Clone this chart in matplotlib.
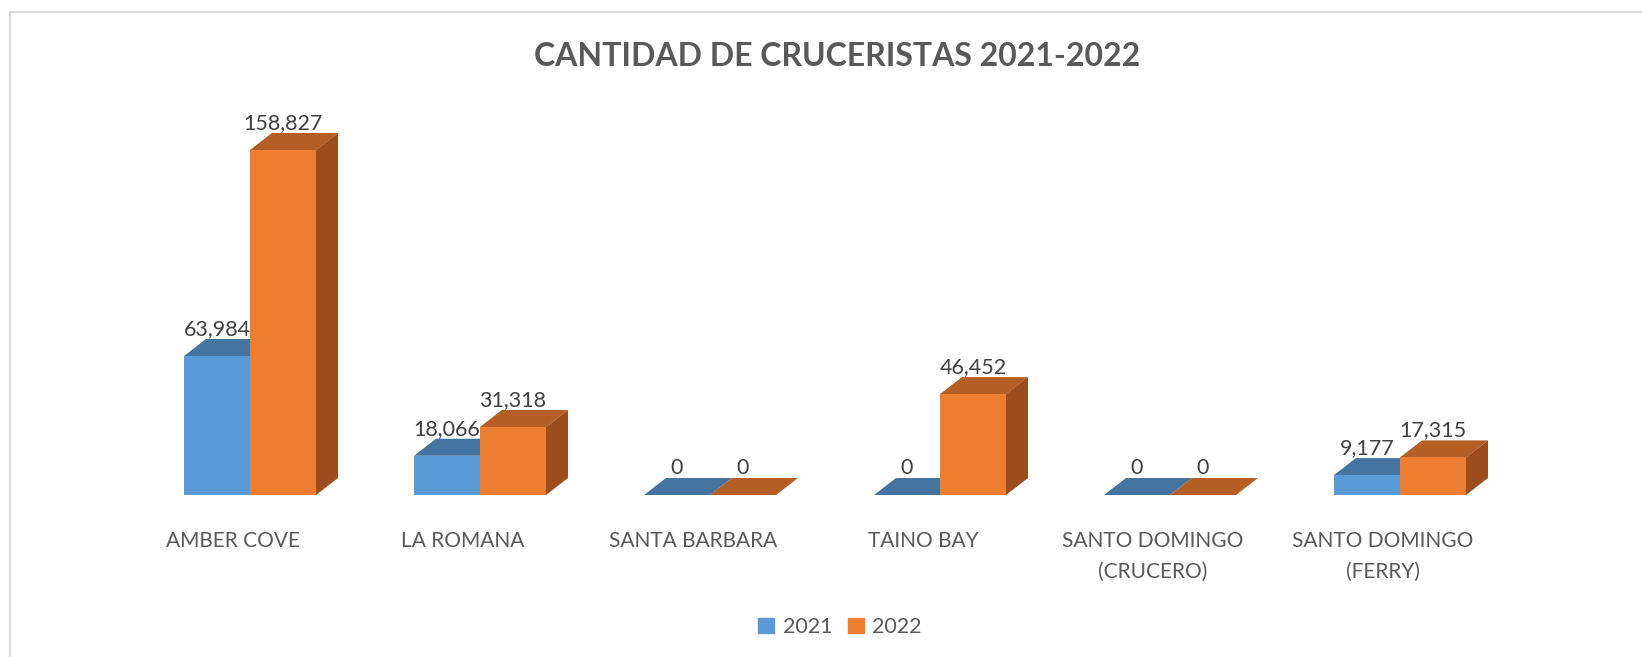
import numpy as np
import matplotlib as mpl
mpl.use('Agg')
import matplotlib.pyplot as plt
from matplotlib.patches import Polygon, Rectangle

categories = ['AMBER COVE', 'LA ROMANA', 'SANTA BARBARA', 'TAINO BAY',
              'SANTO DOMINGO\n(CRUCERO)', 'SANTO DOMINGO\n(FERRY)']
series_names = ['2021', '2022']
v2021 = [63984, 18066, 0, 0, 0, 9177]
v2022 = [158827, 31318, 0, 46452, 0, 17315]

W, H = 1642, 657
plt.rcParams['font.family'] = ['Lato', 'DejaVu Sans']
TXT = '#595959'

fig = plt.figure(figsize=(W / 100, H / 100), dpi=100)
# chart frame (clipped at right/bottom like the screenshot)
fig.patches.append(Rectangle((10 / W, -0.1), 1.2, (H - 12) / H + 0.1,
                             transform=fig.transFigure, fill=False,
                             edgecolor='#d9d9d9', linewidth=1.5))

# axes: group centre i at pixel 250+230*i, value 0 at y=495
px_per_cat = 230.0
left_px, right_px = 60, 1600
base_px, top_px = 495, 120
ax = fig.add_axes([left_px / W, (H - base_px) / H,
                   (right_px - left_px) / W, (base_px - top_px) / H])
ax.set_xlim((left_px - 250) / px_per_cat, (right_px - 250) / px_per_cat)
val_per_px = 158827 / 345.0
ax.set_ylim(0, (base_px - top_px) * val_per_px)
ax.axis('off')

bw = 66 / px_per_cat
dx = 22 / px_per_cat
dy = 17 * val_per_px

colors = {
    '2021': ('#5b9bd5', '#44749f', '#3c6890'),
    '2022': ('#ed7d31', '#b45d24', '#9a4e1e'),
}

x = np.arange(len(categories))
for k, (name, vals) in enumerate(zip(series_names, [v2021, v2022])):
    front, top, side = colors[name]
    x0s = x - bw + k * bw
    z = 2 + 2 * k
    ax.bar(x0s, vals, width=bw, align='edge', color=front, zorder=z + 1)
    for x0, v in zip(x0s, vals):
        x1 = x0 + bw
        ax.add_patch(Polygon([(x0, v), (x1, v), (x1 + dx, v + dy), (x0 + dx, v + dy)],
                             closed=True, facecolor=top, edgecolor='none', zorder=z))
        if v > 0:
            ax.add_patch(Polygon([(x1, 0), (x1, v), (x1 + dx, v + dy), (x1 + dx, dy)],
                                 closed=True, facecolor=side, edgecolor='none', zorder=z))
        ax.text(x0 + bw / 2, v + dy, f'{v:,}', ha='center', va='bottom',
                fontsize=15.5, color='#404040', zorder=10)

for xi, lab in zip(x, categories):
    ax.text(xi - 17 / px_per_cat, -36 * val_per_px, lab, ha='center', va='top',
            fontsize=15, color=TXT, linespacing=1.7)

fig.text(837 / W, 1 - 56 / H, 'CANTIDAD DE CRUCERISTAS 2021-2022', ha='center',
         va='center', fontsize=23, fontweight='bold', color=TXT)

handles = [Rectangle((0, 0), 1, 1, color=colors[n][0]) for n in series_names]
fig.legend(handles, series_names, loc='center', bbox_to_anchor=(840 / W, 1 - 627 / H),
           ncol=2, frameon=False, fontsize=15.5, labelcolor=TXT, handlelength=0.75,
           handleheight=0.75, handletextpad=0.4, columnspacing=0.7)

fig.savefig('out.png', dpi=100)
